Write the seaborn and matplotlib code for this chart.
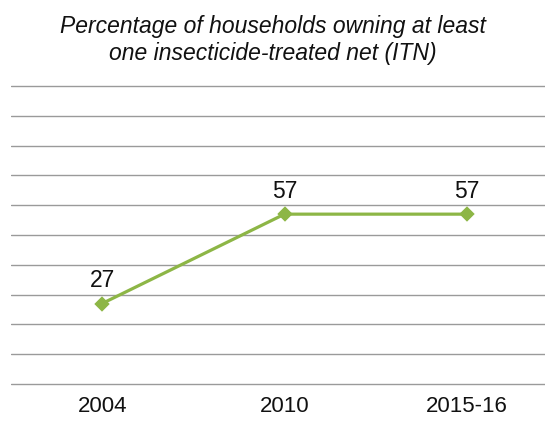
import seaborn as sns
import matplotlib.pyplot as plt
import pandas as pd

years = ["2004", "2010", "2015-16"]
itn_pct = [27, 57, 57]
title = "Percentage of households owning at least\none insecticide-treated net (ITN)"

sns.set_style("white")
plt.rcParams["font.family"] = ["Liberation Sans", "DejaVu Sans"]

df = pd.DataFrame({"year": years, "pct": itn_pct})

fig = plt.figure(figsize=(5.45, 4.23), dpi=100)
ax = fig.add_axes([11 / 545, 37 / 423, 547 / 545, 302 / 423])

sns.pointplot(data=df, x="year", y="pct", color="#8db646", markers="D",
              markersize=6.5, linewidth=2.3, ax=ax)

# a little room so the 0 and 100 gridlines are not clipped
ax.set_ylim(-0.7, 100.7)
ax.set_xlim(-0.5, 2.5)
ax.set_yticks(range(0, 101, 10))
ax.yaxis.grid(True, color="#9a9a9a", linewidth=1)
ax.set_axisbelow(True)
ax.tick_params(axis="y", left=False, labelleft=False)
ax.tick_params(axis="x", bottom=False, labelsize=16, pad=4, colors="#111111")
for side in ["top", "right", "left", "bottom"]:
    ax.spines[side].set_visible(False)
ax.set(xlabel="", ylabel="")

# value labels above the points
for i, v in enumerate(itn_pct):
    ax.annotate(str(v), (i, v), xytext=(0, 8), textcoords="offset points",
                ha="center", va="bottom", fontsize=16.5, color="#111111")

fig.text(0.5, 0.905, title, ha="center", va="center", fontsize=16.5,
         style="italic", color="#111111", linespacing=1.2)

fig.savefig("out.png", dpi=100)
